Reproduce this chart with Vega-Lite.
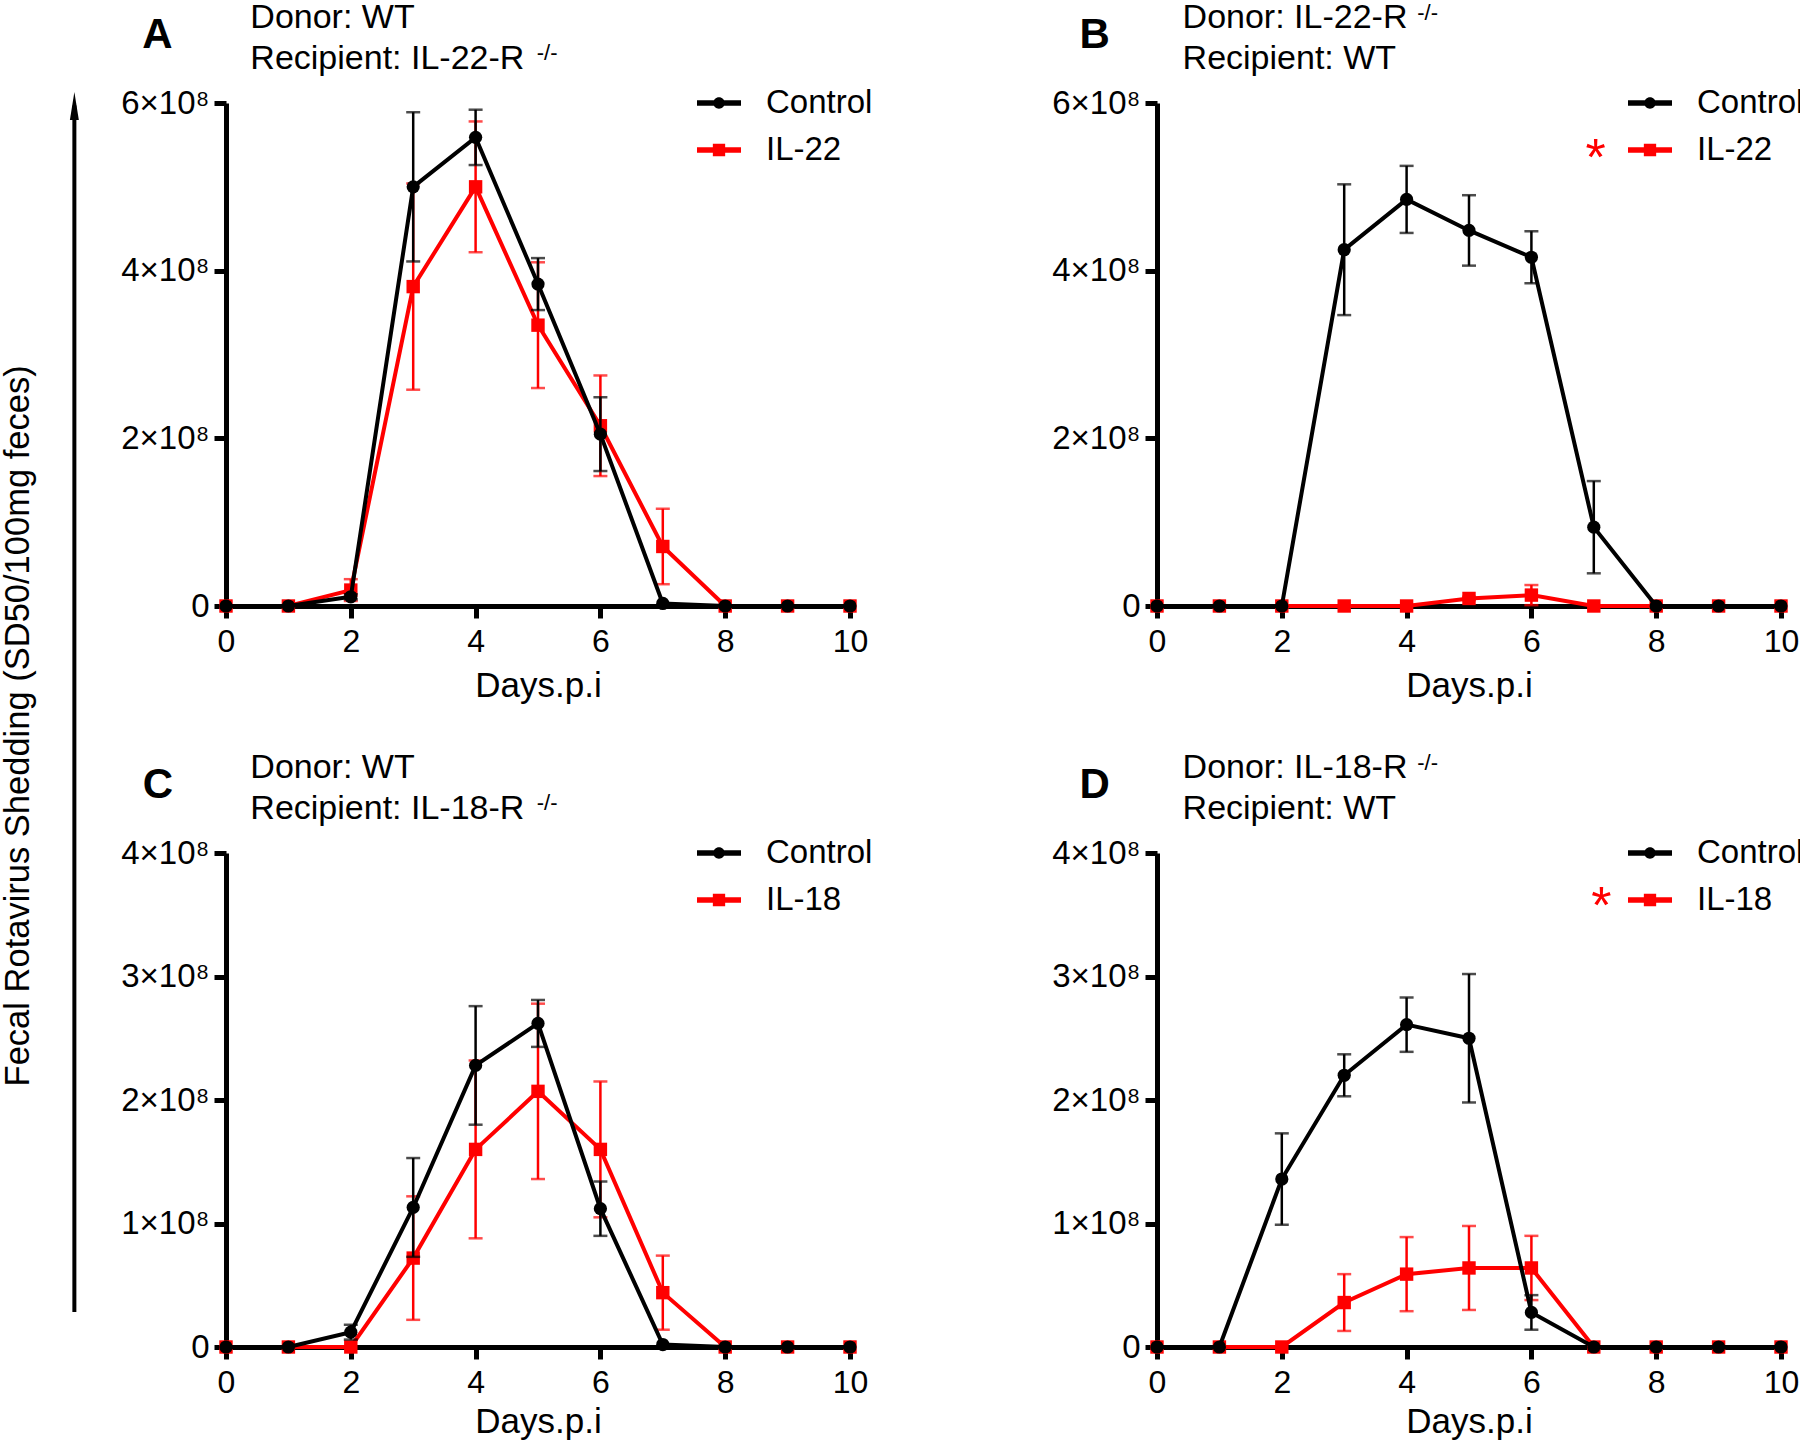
{
  "$schema": "https://vega.github.io/schema/vega-lite/v6.json",
  "background": "white",
  "padding": {"left": 0, "top": 0, "right": 5, "bottom": 5},
  "datasets": {
    "A": [
      {"day": 0, "group": "IL-22", "mean": 0, "sem": 0},
      {"day": 1, "group": "IL-22", "mean": 0, "sem": 0},
      {"day": 2, "group": "IL-22", "mean": 0.19e8, "sem": 0.13e8},
      {"day": 3, "group": "IL-22", "mean": 3.81e8, "sem": 1.23e8},
      {"day": 4, "group": "IL-22", "mean": 5.0e8, "sem": 0.78e8},
      {"day": 5, "group": "IL-22", "mean": 3.35e8, "sem": 0.75e8},
      {"day": 6, "group": "IL-22", "mean": 2.15e8, "sem": 0.6e8},
      {"day": 7, "group": "IL-22", "mean": 0.71e8, "sem": 0.45e8},
      {"day": 8, "group": "IL-22", "mean": 0, "sem": 0},
      {"day": 9, "group": "IL-22", "mean": 0, "sem": 0},
      {"day": 10, "group": "IL-22", "mean": 0, "sem": 0},
      {"day": 0, "group": "Control", "mean": 0, "sem": 0},
      {"day": 1, "group": "Control", "mean": 0, "sem": 0},
      {"day": 2, "group": "Control", "mean": 0.11e8, "sem": 0.03e8},
      {"day": 3, "group": "Control", "mean": 5.0e8, "sem": 0.89e8},
      {"day": 4, "group": "Control", "mean": 5.59e8, "sem": 0.33e8},
      {"day": 5, "group": "Control", "mean": 3.84e8, "sem": 0.31e8},
      {"day": 6, "group": "Control", "mean": 2.05e8, "sem": 0.44e8},
      {"day": 7, "group": "Control", "mean": 0.03e8, "sem": 0},
      {"day": 8, "group": "Control", "mean": 0, "sem": 0},
      {"day": 9, "group": "Control", "mean": 0, "sem": 0},
      {"day": 10, "group": "Control", "mean": 0, "sem": 0}
    ],
    "B": [
      {"day": 0, "group": "IL-22", "mean": 0, "sem": 0},
      {"day": 1, "group": "IL-22", "mean": 0, "sem": 0},
      {"day": 2, "group": "IL-22", "mean": 0, "sem": 0},
      {"day": 3, "group": "IL-22", "mean": 0, "sem": 0},
      {"day": 4, "group": "IL-22", "mean": 0, "sem": 0},
      {"day": 5, "group": "IL-22", "mean": 0.09e8, "sem": 0.02e8},
      {"day": 6, "group": "IL-22", "mean": 0.13e8, "sem": 0.12e8},
      {"day": 7, "group": "IL-22", "mean": 0, "sem": 0},
      {"day": 8, "group": "IL-22", "mean": 0, "sem": 0},
      {"day": 9, "group": "IL-22", "mean": 0, "sem": 0},
      {"day": 10, "group": "IL-22", "mean": 0, "sem": 0},
      {"day": 0, "group": "Control", "mean": 0, "sem": 0},
      {"day": 1, "group": "Control", "mean": 0, "sem": 0},
      {"day": 2, "group": "Control", "mean": 0, "sem": 0},
      {"day": 3, "group": "Control", "mean": 4.25e8, "sem": 0.78e8},
      {"day": 4, "group": "Control", "mean": 4.85e8, "sem": 0.4e8},
      {"day": 5, "group": "Control", "mean": 4.48e8, "sem": 0.42e8},
      {"day": 6, "group": "Control", "mean": 4.16e8, "sem": 0.31e8},
      {"day": 7, "group": "Control", "mean": 0.94e8, "sem": 0.55e8},
      {"day": 8, "group": "Control", "mean": 0, "sem": 0},
      {"day": 9, "group": "Control", "mean": 0, "sem": 0},
      {"day": 10, "group": "Control", "mean": 0, "sem": 0}
    ],
    "C": [
      {"day": 0, "group": "IL-18", "mean": 0, "sem": 0},
      {"day": 1, "group": "IL-18", "mean": 0, "sem": 0},
      {"day": 2, "group": "IL-18", "mean": 0, "sem": 0},
      {"day": 3, "group": "IL-18", "mean": 0.72e8, "sem": 0.5e8},
      {"day": 4, "group": "IL-18", "mean": 1.6e8, "sem": 0.72e8},
      {"day": 5, "group": "IL-18", "mean": 2.07e8, "sem": 0.71e8},
      {"day": 6, "group": "IL-18", "mean": 1.6e8, "sem": 0.55e8},
      {"day": 7, "group": "IL-18", "mean": 0.44e8, "sem": 0.3e8},
      {"day": 8, "group": "IL-18", "mean": 0, "sem": 0},
      {"day": 9, "group": "IL-18", "mean": 0, "sem": 0},
      {"day": 10, "group": "IL-18", "mean": 0, "sem": 0},
      {"day": 0, "group": "Control", "mean": 0, "sem": 0},
      {"day": 1, "group": "Control", "mean": 0, "sem": 0},
      {"day": 2, "group": "Control", "mean": 0.12e8, "sem": 0.06e8},
      {"day": 3, "group": "Control", "mean": 1.13e8, "sem": 0.4e8},
      {"day": 4, "group": "Control", "mean": 2.28e8, "sem": 0.48e8},
      {"day": 5, "group": "Control", "mean": 2.62e8, "sem": 0.19e8},
      {"day": 6, "group": "Control", "mean": 1.12e8, "sem": 0.22e8},
      {"day": 7, "group": "Control", "mean": 0.02e8, "sem": 0},
      {"day": 8, "group": "Control", "mean": 0, "sem": 0},
      {"day": 9, "group": "Control", "mean": 0, "sem": 0},
      {"day": 10, "group": "Control", "mean": 0, "sem": 0}
    ],
    "D": [
      {"day": 0, "group": "IL-18", "mean": 0, "sem": 0},
      {"day": 1, "group": "IL-18", "mean": 0, "sem": 0},
      {"day": 2, "group": "IL-18", "mean": 0, "sem": 0},
      {"day": 3, "group": "IL-18", "mean": 0.36e8, "sem": 0.23e8},
      {"day": 4, "group": "IL-18", "mean": 0.59e8, "sem": 0.3e8},
      {"day": 5, "group": "IL-18", "mean": 0.64e8, "sem": 0.34e8},
      {"day": 6, "group": "IL-18", "mean": 0.64e8, "sem": 0.26e8},
      {"day": 7, "group": "IL-18", "mean": 0, "sem": 0},
      {"day": 8, "group": "IL-18", "mean": 0, "sem": 0},
      {"day": 9, "group": "IL-18", "mean": 0, "sem": 0},
      {"day": 10, "group": "IL-18", "mean": 0, "sem": 0},
      {"day": 0, "group": "Control", "mean": 0, "sem": 0},
      {"day": 1, "group": "Control", "mean": 0, "sem": 0},
      {"day": 2, "group": "Control", "mean": 1.36e8, "sem": 0.37e8},
      {"day": 3, "group": "Control", "mean": 2.2e8, "sem": 0.17e8},
      {"day": 4, "group": "Control", "mean": 2.61e8, "sem": 0.22e8},
      {"day": 5, "group": "Control", "mean": 2.5e8, "sem": 0.52e8},
      {"day": 6, "group": "Control", "mean": 0.28e8, "sem": 0.14e8},
      {"day": 7, "group": "Control", "mean": 0, "sem": 0},
      {"day": 8, "group": "Control", "mean": 0, "sem": 0},
      {"day": 9, "group": "Control", "mean": 0, "sem": 0},
      {"day": 10, "group": "Control", "mean": 0, "sem": 0}
    ]
  },
  "concat": [
    {
      "width": 624, "height": 503,
      "layer": [
        {
          "data": {"name": "A"},
          "encoding": {
            "x": {"field": "day", "type": "quantitative", "scale": {"domain": [0, 10], "nice": false}, "axis": {"values": [0, 2, 4, 6, 8, 10], "format": "d", "title": "Days.p.i"}},
            "y": {"field": "mean", "type": "quantitative", "scale": {"domain": [0, 6e8], "nice": false}, "axis": {"values": [0, 2e8, 4e8, 6e8], "title": null, "labelExpr": "datum.value === 0 ? '0' : format(datum.value / 1e8, 'd') + '×10⁸'"}},
            "color": {"field": "group", "type": "nominal", "scale": {"domain": ["Control", "IL-22"], "range": ["#000000", "#ff0000"]},
              "legend": {"title": null, "orient": "none", "legendX": 471, "legendY": -22, "labelFontSize": 33, "labelColor": "#000000", "symbolSize": 1936, "labelOffset": 25, "rowPadding": 8, "padding": 0,
                "encode": {"symbols": {"update": {"shape": {"signal": "datum.value === 'Control' ? 'M-1,-0.12L1,-0.12L1,0.12L-1,0.12Z M0.26,0A0.26,0.26 0 1,1 -0.26,0A0.26,0.26 0 1,1 0.26,0Z' : 'M-1,-0.12L1,-0.12L1,0.12L-1,0.12Z M-0.28,-0.28L0.28,-0.28L0.28,0.28L-0.28,0.28Z'"}, "fill": {"signal": "datum.value === 'Control' ? '#000000' : '#ff0000'"}, "strokeWidth": {"value": 0}, "opacity": {"value": 1}}}}}}
          },
          "layer": [
            {"transform": [{"filter": "datum.group !== 'Control' && datum.sem > 0"}], "mark": {"type": "errorbar", "ticks": true, "size": 14, "thickness": 2.5}, "encoding": {"yError": {"field": "sem"}}},
            {"transform": [{"filter": "datum.group !== 'Control'"}], "mark": {"type": "line", "strokeWidth": 4}},
            {"transform": [{"filter": "datum.group !== 'Control'"}], "mark": {"type": "point", "shape": "square", "filled": true, "size": 180, "opacity": 1}},
            {"transform": [{"filter": "datum.group === 'Control' && datum.sem > 0"}], "mark": {"type": "errorbar", "ticks": true, "size": 14, "thickness": 2.5}, "encoding": {"yError": {"field": "sem"}}},
            {"transform": [{"filter": "datum.group === 'Control'"}], "mark": {"type": "line", "strokeWidth": 4}},
            {"transform": [{"filter": "datum.group === 'Control'"}], "mark": {"type": "point", "shape": "circle", "filled": true, "size": 175, "opacity": 1}}
          ]
        },
        {"data": {"values": [{"k": 1}]}, "mark": {"type": "text", "text": "A", "fontSize": 42, "fontWeight": "bold", "align": "center", "baseline": "alphabetic", "color": "#000000"}, "encoding": {"x": {"datum": -1.1}, "y": {"datum": 6.656e8}}},
        {"data": {"values": [{"k": 1}]}, "mark": {"type": "text", "text": "Donor: WT", "fontSize": 34, "align": "left", "baseline": "alphabetic", "color": "#000000"}, "encoding": {"x": {"datum": 0.39}, "y": {"datum": 6.9e8}}},
        {"data": {"values": [{"k": 1}]}, "mark": {"type": "text", "text": "Recipient: IL-22-R", "fontSize": 34, "align": "left", "baseline": "alphabetic", "color": "#000000"}, "encoding": {"x": {"datum": 0.39}, "y": {"datum": 6.406e8}}},
        {"data": {"values": [{"k": 1}]}, "mark": {"type": "text", "text": "-/-", "fontSize": 22, "align": "left", "baseline": "alphabetic", "color": "#000000"}, "encoding": {"x": {"datum": 4.98}, "y": {"datum": 6.513e8}}},
        {"data": {"values": [{"k": 1}]}, "mark": {"type": "rule", "strokeWidth": 4, "color": "#000000"}, "encoding": {"x": {"datum": -2.43}, "y": {"datum": 5.97e8}, "y2": {"datum": -8.42e8}}},
        {"data": {"values": [{"k": 1}]}, "mark": {"type": "point", "shape": "M0,-1L0.32,1L-0.32,1Z", "filled": true, "size": 784, "opacity": 1, "color": "#000000"}, "encoding": {"x": {"datum": -2.43}, "y": {"datum": 5.965e8}}},
        {"data": {"values": [{"k": 1}]}, "mark": {"type": "text", "text": "Fecal Rotavirus Shedding (SD50/100mg feces)", "fontSize": 34.5, "angle": 270, "align": "center", "baseline": "middle", "color": "#000000"}, "encoding": {"x": {"datum": -3.32}, "y": {"datum": -1.43e8}}}
      ]
    },
    {
      "width": 624, "height": 503,
      "layer": [
        {
          "data": {"name": "B"},
          "encoding": {
            "x": {"field": "day", "type": "quantitative", "scale": {"domain": [0, 10], "nice": false}, "axis": {"values": [0, 2, 4, 6, 8, 10], "format": "d", "title": "Days.p.i"}},
            "y": {"field": "mean", "type": "quantitative", "scale": {"domain": [0, 6e8], "nice": false}, "axis": {"values": [0, 2e8, 4e8, 6e8], "title": null, "labelExpr": "datum.value === 0 ? '0' : format(datum.value / 1e8, 'd') + '×10⁸'"}},
            "color": {"field": "group", "type": "nominal", "scale": {"domain": ["Control", "IL-22"], "range": ["#000000", "#ff0000"]},
              "legend": {"title": null, "orient": "none", "legendX": 471, "legendY": -22, "labelFontSize": 33, "labelColor": "#000000", "symbolSize": 1936, "labelOffset": 25, "rowPadding": 8, "padding": 0,
                "encode": {"symbols": {"update": {"shape": {"signal": "datum.value === 'Control' ? 'M-1,-0.12L1,-0.12L1,0.12L-1,0.12Z M0.26,0A0.26,0.26 0 1,1 -0.26,0A0.26,0.26 0 1,1 0.26,0Z' : 'M-1,-0.12L1,-0.12L1,0.12L-1,0.12Z M-0.28,-0.28L0.28,-0.28L0.28,0.28L-0.28,0.28Z'"}, "fill": {"signal": "datum.value === 'Control' ? '#000000' : '#ff0000'"}, "strokeWidth": {"value": 0}, "opacity": {"value": 1}}}}}}
          },
          "layer": [
            {"transform": [{"filter": "datum.group !== 'Control' && datum.sem > 0"}], "mark": {"type": "errorbar", "ticks": true, "size": 14, "thickness": 2.5}, "encoding": {"yError": {"field": "sem"}}},
            {"transform": [{"filter": "datum.group !== 'Control'"}], "mark": {"type": "line", "strokeWidth": 4}},
            {"transform": [{"filter": "datum.group !== 'Control'"}], "mark": {"type": "point", "shape": "square", "filled": true, "size": 180, "opacity": 1}},
            {"transform": [{"filter": "datum.group === 'Control' && datum.sem > 0"}], "mark": {"type": "errorbar", "ticks": true, "size": 14, "thickness": 2.5}, "encoding": {"yError": {"field": "sem"}}},
            {"transform": [{"filter": "datum.group === 'Control'"}], "mark": {"type": "line", "strokeWidth": 4}},
            {"transform": [{"filter": "datum.group === 'Control'"}], "mark": {"type": "point", "shape": "circle", "filled": true, "size": 175, "opacity": 1}}
          ]
        },
        {"data": {"values": [{"k": 1}]}, "mark": {"type": "text", "text": "B", "fontSize": 42, "fontWeight": "bold", "align": "center", "baseline": "alphabetic", "color": "#000000"}, "encoding": {"x": {"datum": -1.0}, "y": {"datum": 6.656e8}}},
        {"data": {"values": [{"k": 1}]}, "mark": {"type": "text", "text": "Donor: IL-22-R", "fontSize": 34, "align": "left", "baseline": "alphabetic", "color": "#000000"}, "encoding": {"x": {"datum": 0.41}, "y": {"datum": 6.9e8}}},
        {"data": {"values": [{"k": 1}]}, "mark": {"type": "text", "text": "-/-", "fontSize": 22, "align": "left", "baseline": "alphabetic", "color": "#000000"}, "encoding": {"x": {"datum": 4.17}, "y": {"datum": 6.99e8}}},
        {"data": {"values": [{"k": 1}]}, "mark": {"type": "text", "text": "Recipient: WT", "fontSize": 34, "align": "left", "baseline": "alphabetic", "color": "#000000"}, "encoding": {"x": {"datum": 0.41}, "y": {"datum": 6.406e8}}},
        {"data": {"values": [{"k": 1}]}, "mark": {"type": "text", "text": "*", "fontSize": 52, "align": "center", "baseline": "alphabetic", "color": "#ff0000"}, "encoding": {"x": {"datum": 7.03}, "y": {"datum": 5.136e8}}}
      ]
    },
    {
      "width": 624, "height": 494,
      "layer": [
        {
          "data": {"name": "C"},
          "encoding": {
            "x": {"field": "day", "type": "quantitative", "scale": {"domain": [0, 10], "nice": false}, "axis": {"values": [0, 2, 4, 6, 8, 10], "format": "d", "title": "Days.p.i", "titlePadding": 6}},
            "y": {"field": "mean", "type": "quantitative", "scale": {"domain": [0, 4e8], "nice": false}, "axis": {"values": [0, 1e8, 2e8, 3e8, 4e8], "title": null, "labelExpr": "datum.value === 0 ? '0' : format(datum.value / 1e8, 'd') + '×10⁸'"}},
            "color": {"field": "group", "type": "nominal", "scale": {"domain": ["Control", "IL-18"], "range": ["#000000", "#ff0000"]},
              "legend": {"title": null, "orient": "none", "legendX": 471, "legendY": -22, "labelFontSize": 33, "labelColor": "#000000", "symbolSize": 1936, "labelOffset": 25, "rowPadding": 8, "padding": 0,
                "encode": {"symbols": {"update": {"shape": {"signal": "datum.value === 'Control' ? 'M-1,-0.12L1,-0.12L1,0.12L-1,0.12Z M0.26,0A0.26,0.26 0 1,1 -0.26,0A0.26,0.26 0 1,1 0.26,0Z' : 'M-1,-0.12L1,-0.12L1,0.12L-1,0.12Z M-0.28,-0.28L0.28,-0.28L0.28,0.28L-0.28,0.28Z'"}, "fill": {"signal": "datum.value === 'Control' ? '#000000' : '#ff0000'"}, "strokeWidth": {"value": 0}, "opacity": {"value": 1}}}}}}
          },
          "layer": [
            {"transform": [{"filter": "datum.group !== 'Control' && datum.sem > 0"}], "mark": {"type": "errorbar", "ticks": true, "size": 14, "thickness": 2.5}, "encoding": {"yError": {"field": "sem"}}},
            {"transform": [{"filter": "datum.group !== 'Control'"}], "mark": {"type": "line", "strokeWidth": 4}},
            {"transform": [{"filter": "datum.group !== 'Control'"}], "mark": {"type": "point", "shape": "square", "filled": true, "size": 180, "opacity": 1}},
            {"transform": [{"filter": "datum.group === 'Control' && datum.sem > 0"}], "mark": {"type": "errorbar", "ticks": true, "size": 14, "thickness": 2.5}, "encoding": {"yError": {"field": "sem"}}},
            {"transform": [{"filter": "datum.group === 'Control'"}], "mark": {"type": "line", "strokeWidth": 4}},
            {"transform": [{"filter": "datum.group === 'Control'"}], "mark": {"type": "point", "shape": "circle", "filled": true, "size": 175, "opacity": 1}}
          ]
        },
        {"data": {"values": [{"k": 1}]}, "mark": {"type": "text", "text": "C", "fontSize": 42, "fontWeight": "bold", "align": "center", "baseline": "alphabetic", "color": "#000000"}, "encoding": {"x": {"datum": -1.09}, "y": {"datum": 4.445e8}}},
        {"data": {"values": [{"k": 1}]}, "mark": {"type": "text", "text": "Donor: WT", "fontSize": 34, "align": "left", "baseline": "alphabetic", "color": "#000000"}, "encoding": {"x": {"datum": 0.39}, "y": {"datum": 4.611e8}}},
        {"data": {"values": [{"k": 1}]}, "mark": {"type": "text", "text": "Recipient: IL-18-R", "fontSize": 34, "align": "left", "baseline": "alphabetic", "color": "#000000"}, "encoding": {"x": {"datum": 0.39}, "y": {"datum": 4.275e8}}},
        {"data": {"values": [{"k": 1}]}, "mark": {"type": "text", "text": "-/-", "fontSize": 22, "align": "left", "baseline": "alphabetic", "color": "#000000"}, "encoding": {"x": {"datum": 4.98}, "y": {"datum": 4.348e8}}}
      ]
    },
    {
      "width": 624, "height": 494,
      "layer": [
        {
          "data": {"name": "D"},
          "encoding": {
            "x": {"field": "day", "type": "quantitative", "scale": {"domain": [0, 10], "nice": false}, "axis": {"values": [0, 2, 4, 6, 8, 10], "format": "d", "title": "Days.p.i", "titlePadding": 6}},
            "y": {"field": "mean", "type": "quantitative", "scale": {"domain": [0, 4e8], "nice": false}, "axis": {"values": [0, 1e8, 2e8, 3e8, 4e8], "title": null, "labelExpr": "datum.value === 0 ? '0' : format(datum.value / 1e8, 'd') + '×10⁸'"}},
            "color": {"field": "group", "type": "nominal", "scale": {"domain": ["Control", "IL-18"], "range": ["#000000", "#ff0000"]},
              "legend": {"title": null, "orient": "none", "legendX": 471, "legendY": -22, "labelFontSize": 33, "labelColor": "#000000", "symbolSize": 1936, "labelOffset": 25, "rowPadding": 8, "padding": 0,
                "encode": {"symbols": {"update": {"shape": {"signal": "datum.value === 'Control' ? 'M-1,-0.12L1,-0.12L1,0.12L-1,0.12Z M0.26,0A0.26,0.26 0 1,1 -0.26,0A0.26,0.26 0 1,1 0.26,0Z' : 'M-1,-0.12L1,-0.12L1,0.12L-1,0.12Z M-0.28,-0.28L0.28,-0.28L0.28,0.28L-0.28,0.28Z'"}, "fill": {"signal": "datum.value === 'Control' ? '#000000' : '#ff0000'"}, "strokeWidth": {"value": 0}, "opacity": {"value": 1}}}}}}
          },
          "layer": [
            {"transform": [{"filter": "datum.group !== 'Control' && datum.sem > 0"}], "mark": {"type": "errorbar", "ticks": true, "size": 14, "thickness": 2.5}, "encoding": {"yError": {"field": "sem"}}},
            {"transform": [{"filter": "datum.group !== 'Control'"}], "mark": {"type": "line", "strokeWidth": 4}},
            {"transform": [{"filter": "datum.group !== 'Control'"}], "mark": {"type": "point", "shape": "square", "filled": true, "size": 180, "opacity": 1}},
            {"transform": [{"filter": "datum.group === 'Control' && datum.sem > 0"}], "mark": {"type": "errorbar", "ticks": true, "size": 14, "thickness": 2.5}, "encoding": {"yError": {"field": "sem"}}},
            {"transform": [{"filter": "datum.group === 'Control'"}], "mark": {"type": "line", "strokeWidth": 4}},
            {"transform": [{"filter": "datum.group === 'Control'"}], "mark": {"type": "point", "shape": "circle", "filled": true, "size": 175, "opacity": 1}}
          ]
        },
        {"data": {"values": [{"k": 1}]}, "mark": {"type": "text", "text": "D", "fontSize": 42, "fontWeight": "bold", "align": "center", "baseline": "alphabetic", "color": "#000000"}, "encoding": {"x": {"datum": -1.0}, "y": {"datum": 4.445e8}}},
        {"data": {"values": [{"k": 1}]}, "mark": {"type": "text", "text": "Donor: IL-18-R", "fontSize": 34, "align": "left", "baseline": "alphabetic", "color": "#000000"}, "encoding": {"x": {"datum": 0.41}, "y": {"datum": 4.611e8}}},
        {"data": {"values": [{"k": 1}]}, "mark": {"type": "text", "text": "-/-", "fontSize": 22, "align": "left", "baseline": "alphabetic", "color": "#000000"}, "encoding": {"x": {"datum": 4.17}, "y": {"datum": 4.672e8}}},
        {"data": {"values": [{"k": 1}]}, "mark": {"type": "text", "text": "Recipient: WT", "fontSize": 34, "align": "left", "baseline": "alphabetic", "color": "#000000"}, "encoding": {"x": {"datum": 0.41}, "y": {"datum": 4.275e8}}},
        {"data": {"values": [{"k": 1}]}, "mark": {"type": "text", "text": "*", "fontSize": 52, "align": "center", "baseline": "alphabetic", "color": "#ff0000"}, "encoding": {"x": {"datum": 7.12}, "y": {"datum": 3.433e8}}}
      ]
    }
  ],
  "columns": 2,
  "spacing": {"row": 247, "column": 307},
  "bounds": "flush",
  "resolve": {"scale": {"color": "independent"}, "legend": {"color": "independent"}},
  "config": {
    "font": "Liberation Sans",
    "view": {"stroke": null},
    "axis": {"domainColor": "#000000", "domainWidth": 5, "tickColor": "#000000", "tickWidth": 5, "tickSize": 12, "labelFont": "Liberation Sans", "labelFontSize": 32, "labelColor": "#000000", "labelPadding": 7, "labelFlush": false, "grid": false, "titleFont": "Liberation Sans", "titleFontSize": 35, "titleFontWeight": "normal", "titleColor": "#000000"},
    "axisY": {"labelFontSize": 33, "labelPadding": 5},
    "axisX": {"titlePadding": 11, "labelPadding": 8}
  }
}
